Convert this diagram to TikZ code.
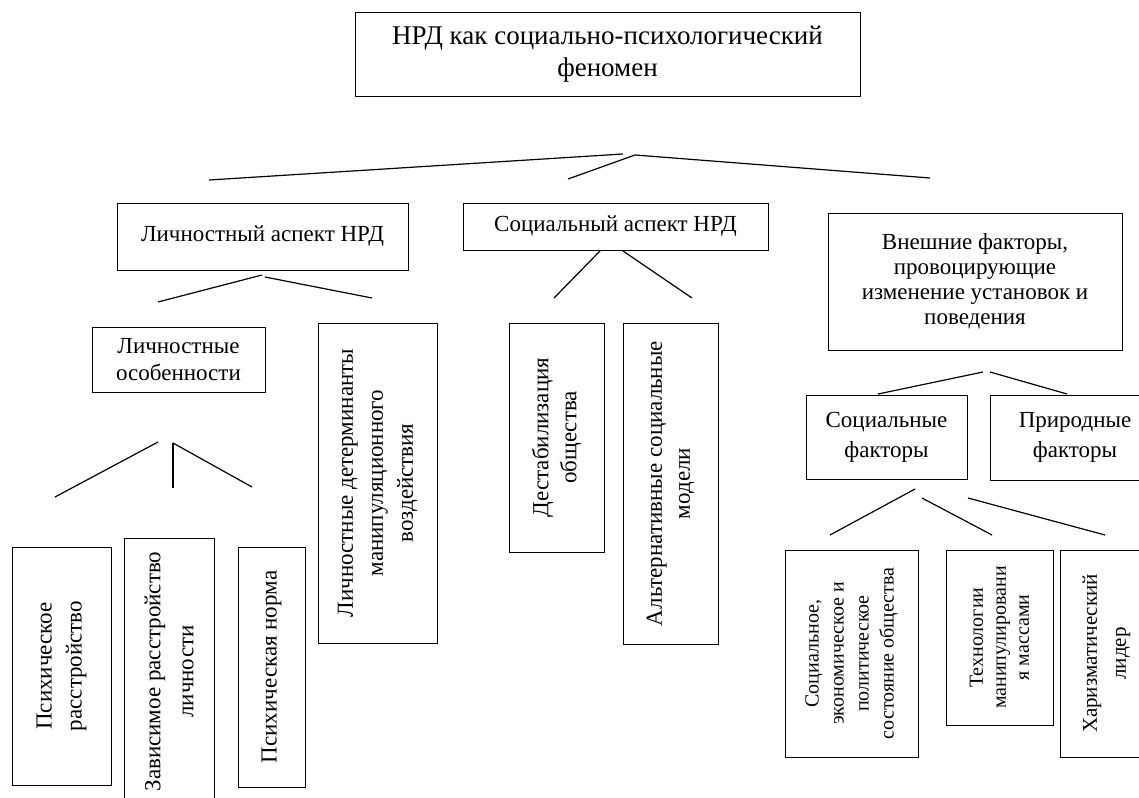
\documentclass[tikz,border=0pt]{standalone}
\usepackage{fontspec}
\setmainfont{Liberation Serif}
\begin{document}
\begin{tikzpicture}[x=1pt,y=-1pt,
  box/.style={draw, line width=0.9pt, inner sep=0pt, align=center, font=\fontsize{23}{27}\selectfont},
  vbox/.style={box, rotate=90},
  ln/.style={line width=1.2pt}]
\clip (0,0) rectangle (1139,797);
\fill[white] (0,0) rectangle (1139,797);
% boxes
\node[box, minimum width=505, minimum height=84, font=\fontsize{27}{32}\selectfont] (top) at (607.5,54) {НРД как социально-психологический\\феномен};
\node[box, minimum width=291, minimum height=67] (pers) at (262.5,236.5) {Личностный аспект НРД};
\node[box, minimum width=305, minimum height=47] (soc) at (615.5,226.5) {Социальный аспект НРД};
\node[box, minimum width=294, minimum height=137, font=\fontsize{23}{25}\selectfont] (ext) at (975,281.5) {Внешние факторы,\\провоцирующие\\изменение установок и\\поведения};
\node[box, minimum width=161, minimum height=84, font=\fontsize{23}{30}\selectfont] (socf) at (886.5,437) {Социальные\\факторы};
\node[box, minimum width=170, minimum height=85, font=\fontsize{23}{30}\selectfont] (natf) at (1075,437.5) {Природные\\факторы};
\node[box, minimum width=173, minimum height=65] (osob) at (178.5,359.5) {Личностные\\особенности};
\node[vbox, minimum width=320, minimum height=119, font=\fontsize{23}{30}\selectfont] (det) at (377.5,483) {Личностные детерминанты\\манипуляционного\\воздействия};
\node[vbox, minimum width=229, minimum height=95, font=\fontsize{23}{28}\selectfont] (dest) at (556.5,437.5) {Дестабилизация\\общества};
\node[vbox, minimum width=321, minimum height=95, font=\fontsize{23}{28}\selectfont] (alt) at (670.5,483.5) {Альтернативные социальные\\модели};
\node[vbox, minimum width=238, minimum height=99, font=\fontsize{23}{30}\selectfont] (pr) at (61.5,666) {Психическое\\расстройство};
\node[vbox, minimum width=267, minimum height=90, font=\fontsize{23}{33}\selectfont] (zav) at (169,671.5) {Зависимое расстройство\\личности};
\node[vbox, minimum width=240, minimum height=67] (norm) at (271.5,667) {Психическая норма};
\node[vbox, minimum width=207, minimum height=133, font=\fontsize{20}{25}\selectfont] (se) at (851.5,653.5) {Социальное,\\экономическое и\\политическое\\состояние общества};
\node[vbox, minimum width=175, minimum height=107, font=\fontsize{20}{23}\selectfont] (tech) at (999.5,637.5) {Технологии\\манипулировани\\я массами};
\node[vbox, minimum width=207, minimum height=93, font=\fontsize{21}{29}\selectfont] (char) at (1106.5,653.5) {Харизматический\\лидер};
% connector end points
\coordinate (t0) at (635,155); \coordinate (t0a) at (623,154);
\coordinate (tL) at (209,180); \coordinate (tM) at (568,179); \coordinate (tR) at (930,178);
\coordinate (p0a) at (262,275); \coordinate (p0b) at (265,277);
\coordinate (pL) at (158,302); \coordinate (pR) at (372,298);
\coordinate (s0a) at (600,251); \coordinate (s0b) at (623,251);
\coordinate (sL) at (554,298); \coordinate (sR) at (692,298);
\coordinate (o0a) at (158,442); \coordinate (o0b) at (173,443);
\coordinate (oL) at (55,497); \coordinate (oM) at (173,488); \coordinate (oR) at (252,487);
\coordinate (e0a) at (983,372); \coordinate (e0b) at (990,372);
\coordinate (eL) at (878,394); \coordinate (eR) at (1067,394);
\coordinate (f0a) at (915,489); \coordinate (f0b) at (922,498); \coordinate (f0c) at (968,498);
\coordinate (fL) at (830,535); \coordinate (fM) at (992,535); \coordinate (fR) at (1105,535);
% connectors
\draw[ln] (tL) -- (t0a);
\draw[ln] (t0) -- (tM);
\draw[ln] (t0) -- (tR);
\draw[ln] (p0a) -- (pL);
\draw[ln] (p0b) -- (pR);
\draw[ln] (s0a) -- (sL);
\draw[ln] (s0b) -- (sR);
\draw[ln] (o0a) -- (oL);
\draw[ln] (o0b) -- (oM);
\draw[ln] (o0b) -- (oR);
\draw[ln] (e0a) -- (eL);
\draw[ln] (e0b) -- (eR);
\draw[ln] (f0a) -- (fL);
\draw[ln] (f0b) -- (fM);
\draw[ln] (f0c) -- (fR);
\end{tikzpicture}
\end{document}
